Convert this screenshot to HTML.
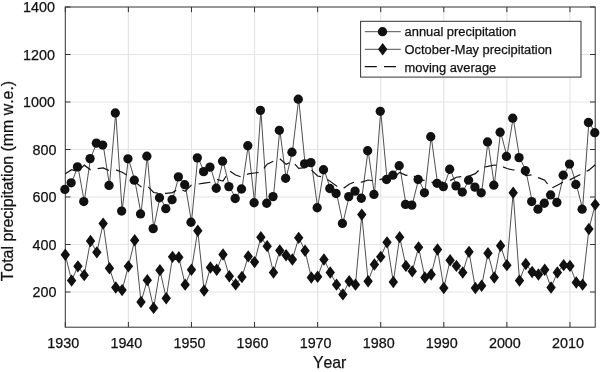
<!DOCTYPE html>
<html lang="en"><head><meta charset="utf-8"><title>Total precipitation</title>
<style>html,body{margin:0;padding:0;background:#fff}body{width:600px;height:372px;overflow:hidden}svg{display:block}text{stroke:#111;stroke-width:.25px}</style></head>
<body>
<svg width="600" height="372" viewBox="0 0 600 372" font-family="'Liberation Sans', Arial, Helvetica, sans-serif" fill="#111">
<rect width="600" height="372" fill="#fff"/>
<path d="M128.38 7V327.2M191.47 7V327.2M254.55 7V327.2M317.63 7V327.2M380.72 7V327.2M443.8 7V327.2M506.88 7V327.2M569.97 7V327.2M65.3 292H595.2M65.3 244.5H595.2M65.3 197H595.2M65.3 149.5H595.2M65.3 102H595.2M65.3 54.5H595.2" stroke="#e5e5e5" stroke-width="1.2" fill="none"/>
<path d="M65.3 327.2v-5.2M65.3 7v5.2M128.38 327.2v-5.2M128.38 7v5.2M191.47 327.2v-5.2M191.47 7v5.2M254.55 327.2v-5.2M254.55 7v5.2M317.63 327.2v-5.2M317.63 7v5.2M380.72 327.2v-5.2M380.72 7v5.2M443.8 327.2v-5.2M443.8 7v5.2M506.88 327.2v-5.2M506.88 7v5.2M569.97 327.2v-5.2M569.97 7v5.2M65.3 292h5.2M595.2 292h-5.2M65.3 244.5h5.2M595.2 244.5h-5.2M65.3 197h5.2M595.2 197h-5.2M65.3 149.5h5.2M595.2 149.5h-5.2M65.3 102h5.2M595.2 102h-5.2M65.3 54.5h5.2M595.2 54.5h-5.2M65.3 7h5.2M595.2 7h-5.2" stroke="#333" stroke-width="1" fill="none"/>
<rect x="65.3" y="7" width="529.9" height="320.2" fill="none" stroke="#333" stroke-width="1"/>
<g>
<polyline points="65.3,254.71 71.61,280.6 77.92,266.35 84.22,275.14 90.53,240.94 96.84,252.34 103.15,223.6 109.46,268.25 115.77,287.49 122.08,290.1 128.38,266.35 134.69,240.22 141,301.98 147.31,280.12 153.62,307.91 159.93,270.15 166.23,298.18 172.54,256.85 178.85,257.32 185.16,284.64 191.47,269.68 197.78,230.72 204.08,290.57 210.39,267.54 216.7,269.68 223.01,254.47 229.32,276.32 235.63,284.4 241.93,277.04 248.24,256.38 254.55,262.07 260.86,237.14 267.17,246.16 273.48,272.52 279.78,250.44 286.09,255.19 292.4,259.46 298.71,237.85 305.02,250.68 311.33,277.51 317.63,276.8 323.94,259.46 330.25,272.52 336.56,284.64 342.87,294.38 349.18,281.31 355.48,284.64 361.79,214.57 368.1,281.31 374.41,264.45 380.72,256.85 387.03,242.36 393.33,282.02 399.64,237.14 405.95,265.88 412.26,271.34 418.57,247.35 424.88,277.51 431.18,274.43 437.49,249.49 443.8,287.96 450.11,260.18 456.42,265.88 462.73,272.52 469.03,251.86 475.34,287.96 481.65,285.82 487.96,253.29 494.27,277.51 500.58,245.69 506.88,265.16 513.19,192.72 519.5,280.6 525.81,263.98 532.12,272.05 538.43,274.43 544.73,269.68 551.04,287.49 557.35,272.52 563.66,265.16 569.97,265.88 576.28,282.5 582.58,284.64 588.89,229.06 595.2,204.6" fill="none" stroke="#3c3c3c" stroke-width="0.9" stroke-linejoin="round"/>
<polyline points="65.3,189.16 71.61,182.51 77.92,166.6 84.22,201.28 90.53,158.29 96.84,142.85 103.15,144.75 109.46,185.12 115.77,112.69 122.08,210.78 128.38,158.53 134.69,179.9 141,213.62 147.31,155.91 153.62,228.35 159.93,197.47 166.23,208.4 172.54,199.38 178.85,176.57 185.16,184.41 191.47,221.94 197.78,157.57 204.08,171.35 210.39,166.84 216.7,187.97 223.01,160.9 229.32,186.31 235.63,198.19 241.93,188.69 248.24,145.46 254.55,202.46 260.86,110.08 267.17,202.94 273.48,196.29 279.78,130.03 286.09,178 292.4,151.88 298.71,98.91 305.02,163.51 311.33,162.32 317.63,207.45 323.94,169.45 330.25,188.21 336.56,193.2 342.87,223.12 349.18,196.29 355.48,190.82 361.79,197.95 368.1,150.45 374.41,194.15 380.72,111.03 387.03,179.19 393.33,174.91 399.64,165.41 405.95,204.12 412.26,204.84 418.57,179.19 424.88,192.49 431.18,136.44 437.49,182.99 443.8,186.31 450.11,168.97 456.42,185.6 462.73,191.78 469.03,179.9 475.34,186.79 481.65,192.49 487.96,141.66 494.27,184.89 500.58,131.93 506.88,156.15 513.19,117.91 519.5,157.34 525.81,170.4 532.12,201.28 538.43,208.88 544.73,202.94 551.04,194.62 557.35,202.22 563.66,174.91 569.97,163.75 576.28,184.18 582.58,208.88 588.89,122.19 595.2,132.4" fill="none" stroke="#3c3c3c" stroke-width="0.9" stroke-linejoin="round"/>
<polyline points="65.3,173.45 71.61,169.35 77.92,171.32 84.22,164.81 90.53,169.4 96.84,168.41 103.15,167.57 109.46,170.4 115.77,169.43 122.08,171.89 128.38,175.45 134.69,181.41 141,186.38 147.31,185.6 153.62,192.12 159.93,193.14 166.23,193.05 172.54,192.27 178.85,188.02 185.16,190.93 191.47,184.8 197.78,183.79 204.08,182.86 210.39,181.89 216.7,179.06 223.01,180.7 229.32,170.53 235.63,174.65 241.93,176.92 248.24,173.57 254.55,172.67 260.86,171.85 267.17,163.9 273.48,160.75 279.78,158.35 286.09,163.99 292.4,160.99 298.71,168.09 305.02,167.2 311.33,169.64 317.63,175.67 323.94,176.83 330.25,181.02 336.56,185.71 342.87,188.49 349.18,183.83 355.48,181.26 361.79,181.76 368.1,179.68 374.41,180.68 380.72,179.01 387.03,177.46 393.33,177.61 399.64,172.02 405.95,174.98 412.26,174.26 418.57,179.53 424.88,180.12 431.18,181.65 437.49,182.97 443.8,181.39 450.11,180.27 456.42,176.86 462.73,176.16 469.03,175.75 475.34,173.31 481.65,167.1 487.96,166.04 494.27,164.66 500.58,165.52 506.88,168.15 513.19,169.62 519.5,169.82 525.81,175.32 532.12,174.42 538.43,177.31 544.73,179.86 551.04,188.13 557.35,184.93 563.66,181.48 569.97,179.5 576.28,176.23 582.58,172.89 588.89,169.79 595.2,164.38" fill="none" stroke="#111" stroke-width="1.2" stroke-dasharray="12 7.1" transform="translate(0 0.35)"/>
<path d="M65.3 248.51l4.7 6.2l-4.7 6.2l-4.7 -6.2zM71.61 274.4l4.7 6.2l-4.7 6.2l-4.7 -6.2zM77.92 260.15l4.7 6.2l-4.7 6.2l-4.7 -6.2zM84.22 268.94l4.7 6.2l-4.7 6.2l-4.7 -6.2zM90.53 234.74l4.7 6.2l-4.7 6.2l-4.7 -6.2zM96.84 246.14l4.7 6.2l-4.7 6.2l-4.7 -6.2zM103.15 217.4l4.7 6.2l-4.7 6.2l-4.7 -6.2zM109.46 262.05l4.7 6.2l-4.7 6.2l-4.7 -6.2zM115.77 281.29l4.7 6.2l-4.7 6.2l-4.7 -6.2zM122.08 283.9l4.7 6.2l-4.7 6.2l-4.7 -6.2zM128.38 260.15l4.7 6.2l-4.7 6.2l-4.7 -6.2zM134.69 234.03l4.7 6.2l-4.7 6.2l-4.7 -6.2zM141 295.78l4.7 6.2l-4.7 6.2l-4.7 -6.2zM147.31 273.93l4.7 6.2l-4.7 6.2l-4.7 -6.2zM153.62 301.71l4.7 6.2l-4.7 6.2l-4.7 -6.2zM159.93 263.95l4.7 6.2l-4.7 6.2l-4.7 -6.2zM166.23 291.98l4.7 6.2l-4.7 6.2l-4.7 -6.2zM172.54 250.65l4.7 6.2l-4.7 6.2l-4.7 -6.2zM178.85 251.12l4.7 6.2l-4.7 6.2l-4.7 -6.2zM185.16 278.44l4.7 6.2l-4.7 6.2l-4.7 -6.2zM191.47 263.48l4.7 6.2l-4.7 6.2l-4.7 -6.2zM197.78 224.53l4.7 6.2l-4.7 6.2l-4.7 -6.2zM204.08 284.38l4.7 6.2l-4.7 6.2l-4.7 -6.2zM210.39 261.34l4.7 6.2l-4.7 6.2l-4.7 -6.2zM216.7 263.48l4.7 6.2l-4.7 6.2l-4.7 -6.2zM223.01 248.28l4.7 6.2l-4.7 6.2l-4.7 -6.2zM229.32 270.12l4.7 6.2l-4.7 6.2l-4.7 -6.2zM235.63 278.2l4.7 6.2l-4.7 6.2l-4.7 -6.2zM241.93 270.84l4.7 6.2l-4.7 6.2l-4.7 -6.2zM248.24 250.18l4.7 6.2l-4.7 6.2l-4.7 -6.2zM254.55 255.88l4.7 6.2l-4.7 6.2l-4.7 -6.2zM260.86 230.94l4.7 6.2l-4.7 6.2l-4.7 -6.2zM267.17 239.96l4.7 6.2l-4.7 6.2l-4.7 -6.2zM273.48 266.32l4.7 6.2l-4.7 6.2l-4.7 -6.2zM279.78 244.24l4.7 6.2l-4.7 6.2l-4.7 -6.2zM286.09 248.99l4.7 6.2l-4.7 6.2l-4.7 -6.2zM292.4 253.26l4.7 6.2l-4.7 6.2l-4.7 -6.2zM298.71 231.65l4.7 6.2l-4.7 6.2l-4.7 -6.2zM305.02 244.48l4.7 6.2l-4.7 6.2l-4.7 -6.2zM311.33 271.31l4.7 6.2l-4.7 6.2l-4.7 -6.2zM317.63 270.6l4.7 6.2l-4.7 6.2l-4.7 -6.2zM323.94 253.26l4.7 6.2l-4.7 6.2l-4.7 -6.2zM330.25 266.32l4.7 6.2l-4.7 6.2l-4.7 -6.2zM336.56 278.44l4.7 6.2l-4.7 6.2l-4.7 -6.2zM342.87 288.18l4.7 6.2l-4.7 6.2l-4.7 -6.2zM349.18 275.11l4.7 6.2l-4.7 6.2l-4.7 -6.2zM355.48 278.44l4.7 6.2l-4.7 6.2l-4.7 -6.2zM361.79 208.38l4.7 6.2l-4.7 6.2l-4.7 -6.2zM368.1 275.11l4.7 6.2l-4.7 6.2l-4.7 -6.2zM374.41 258.25l4.7 6.2l-4.7 6.2l-4.7 -6.2zM380.72 250.65l4.7 6.2l-4.7 6.2l-4.7 -6.2zM387.03 236.16l4.7 6.2l-4.7 6.2l-4.7 -6.2zM393.33 275.82l4.7 6.2l-4.7 6.2l-4.7 -6.2zM399.64 230.94l4.7 6.2l-4.7 6.2l-4.7 -6.2zM405.95 259.68l4.7 6.2l-4.7 6.2l-4.7 -6.2zM412.26 265.14l4.7 6.2l-4.7 6.2l-4.7 -6.2zM418.57 241.15l4.7 6.2l-4.7 6.2l-4.7 -6.2zM424.88 271.31l4.7 6.2l-4.7 6.2l-4.7 -6.2zM431.18 268.23l4.7 6.2l-4.7 6.2l-4.7 -6.2zM437.49 243.29l4.7 6.2l-4.7 6.2l-4.7 -6.2zM443.8 281.76l4.7 6.2l-4.7 6.2l-4.7 -6.2zM450.11 253.98l4.7 6.2l-4.7 6.2l-4.7 -6.2zM456.42 259.68l4.7 6.2l-4.7 6.2l-4.7 -6.2zM462.73 266.32l4.7 6.2l-4.7 6.2l-4.7 -6.2zM469.03 245.66l4.7 6.2l-4.7 6.2l-4.7 -6.2zM475.34 281.76l4.7 6.2l-4.7 6.2l-4.7 -6.2zM481.65 279.62l4.7 6.2l-4.7 6.2l-4.7 -6.2zM487.96 247.09l4.7 6.2l-4.7 6.2l-4.7 -6.2zM494.27 271.31l4.7 6.2l-4.7 6.2l-4.7 -6.2zM500.58 239.49l4.7 6.2l-4.7 6.2l-4.7 -6.2zM506.88 258.96l4.7 6.2l-4.7 6.2l-4.7 -6.2zM513.19 186.53l4.7 6.2l-4.7 6.2l-4.7 -6.2zM519.5 274.4l4.7 6.2l-4.7 6.2l-4.7 -6.2zM525.81 257.78l4.7 6.2l-4.7 6.2l-4.7 -6.2zM532.12 265.85l4.7 6.2l-4.7 6.2l-4.7 -6.2zM538.43 268.23l4.7 6.2l-4.7 6.2l-4.7 -6.2zM544.73 263.48l4.7 6.2l-4.7 6.2l-4.7 -6.2zM551.04 281.29l4.7 6.2l-4.7 6.2l-4.7 -6.2zM557.35 266.32l4.7 6.2l-4.7 6.2l-4.7 -6.2zM563.66 258.96l4.7 6.2l-4.7 6.2l-4.7 -6.2zM569.97 259.68l4.7 6.2l-4.7 6.2l-4.7 -6.2zM576.28 276.3l4.7 6.2l-4.7 6.2l-4.7 -6.2zM582.58 278.44l4.7 6.2l-4.7 6.2l-4.7 -6.2zM588.89 222.86l4.7 6.2l-4.7 6.2l-4.7 -6.2zM595.2 198.4l4.7 6.2l-4.7 6.2l-4.7 -6.2z" fill="#111"/>
<g fill="#111" transform="translate(-0.45 0.3)">
<circle cx="65.3" cy="189.16" r="4.65"/>
<circle cx="71.61" cy="182.51" r="4.65"/>
<circle cx="77.92" cy="166.6" r="4.65"/>
<circle cx="84.22" cy="201.28" r="4.65"/>
<circle cx="90.53" cy="158.29" r="4.65"/>
<circle cx="96.84" cy="142.85" r="4.65"/>
<circle cx="103.15" cy="144.75" r="4.65"/>
<circle cx="109.46" cy="185.12" r="4.65"/>
<circle cx="115.77" cy="112.69" r="4.65"/>
<circle cx="122.08" cy="210.78" r="4.65"/>
<circle cx="128.38" cy="158.53" r="4.65"/>
<circle cx="134.69" cy="179.9" r="4.65"/>
<circle cx="141" cy="213.62" r="4.65"/>
<circle cx="147.31" cy="155.91" r="4.65"/>
<circle cx="153.62" cy="228.35" r="4.65"/>
<circle cx="159.93" cy="197.47" r="4.65"/>
<circle cx="166.23" cy="208.4" r="4.65"/>
<circle cx="172.54" cy="199.38" r="4.65"/>
<circle cx="178.85" cy="176.57" r="4.65"/>
<circle cx="185.16" cy="184.41" r="4.65"/>
<circle cx="191.47" cy="221.94" r="4.65"/>
<circle cx="197.78" cy="157.57" r="4.65"/>
<circle cx="204.08" cy="171.35" r="4.65"/>
<circle cx="210.39" cy="166.84" r="4.65"/>
<circle cx="216.7" cy="187.97" r="4.65"/>
<circle cx="223.01" cy="160.9" r="4.65"/>
<circle cx="229.32" cy="186.31" r="4.65"/>
<circle cx="235.63" cy="198.19" r="4.65"/>
<circle cx="241.93" cy="188.69" r="4.65"/>
<circle cx="248.24" cy="145.46" r="4.65"/>
<circle cx="254.55" cy="202.46" r="4.65"/>
<circle cx="260.86" cy="110.08" r="4.65"/>
<circle cx="267.17" cy="202.94" r="4.65"/>
<circle cx="273.48" cy="196.29" r="4.65"/>
<circle cx="279.78" cy="130.03" r="4.65"/>
<circle cx="286.09" cy="178" r="4.65"/>
<circle cx="292.4" cy="151.88" r="4.65"/>
<circle cx="298.71" cy="98.91" r="4.65"/>
<circle cx="305.02" cy="163.51" r="4.65"/>
<circle cx="311.33" cy="162.32" r="4.65"/>
<circle cx="317.63" cy="207.45" r="4.65"/>
<circle cx="323.94" cy="169.45" r="4.65"/>
<circle cx="330.25" cy="188.21" r="4.65"/>
<circle cx="336.56" cy="193.2" r="4.65"/>
<circle cx="342.87" cy="223.12" r="4.65"/>
<circle cx="349.18" cy="196.29" r="4.65"/>
<circle cx="355.48" cy="190.82" r="4.65"/>
<circle cx="361.79" cy="197.95" r="4.65"/>
<circle cx="368.1" cy="150.45" r="4.65"/>
<circle cx="374.41" cy="194.15" r="4.65"/>
<circle cx="380.72" cy="111.03" r="4.65"/>
<circle cx="387.03" cy="179.19" r="4.65"/>
<circle cx="393.33" cy="174.91" r="4.65"/>
<circle cx="399.64" cy="165.41" r="4.65"/>
<circle cx="405.95" cy="204.12" r="4.65"/>
<circle cx="412.26" cy="204.84" r="4.65"/>
<circle cx="418.57" cy="179.19" r="4.65"/>
<circle cx="424.88" cy="192.49" r="4.65"/>
<circle cx="431.18" cy="136.44" r="4.65"/>
<circle cx="437.49" cy="182.99" r="4.65"/>
<circle cx="443.8" cy="186.31" r="4.65"/>
<circle cx="450.11" cy="168.97" r="4.65"/>
<circle cx="456.42" cy="185.6" r="4.65"/>
<circle cx="462.73" cy="191.78" r="4.65"/>
<circle cx="469.03" cy="179.9" r="4.65"/>
<circle cx="475.34" cy="186.79" r="4.65"/>
<circle cx="481.65" cy="192.49" r="4.65"/>
<circle cx="487.96" cy="141.66" r="4.65"/>
<circle cx="494.27" cy="184.89" r="4.65"/>
<circle cx="500.58" cy="131.93" r="4.65"/>
<circle cx="506.88" cy="156.15" r="4.65"/>
<circle cx="513.19" cy="117.91" r="4.65"/>
<circle cx="519.5" cy="157.34" r="4.65"/>
<circle cx="525.81" cy="170.4" r="4.65"/>
<circle cx="532.12" cy="201.28" r="4.65"/>
<circle cx="538.43" cy="208.88" r="4.65"/>
<circle cx="544.73" cy="202.94" r="4.65"/>
<circle cx="551.04" cy="194.62" r="4.65"/>
<circle cx="557.35" cy="202.22" r="4.65"/>
<circle cx="563.66" cy="174.91" r="4.65"/>
<circle cx="569.97" cy="163.75" r="4.65"/>
<circle cx="576.28" cy="184.18" r="4.65"/>
<circle cx="582.58" cy="208.88" r="4.65"/>
<circle cx="588.89" cy="122.19" r="4.65"/>
<circle cx="595.2" cy="132.4" r="4.65"/>
</g>
</g>
<g font-size="13.9" text-anchor="middle">
<text x="63.3" y="347.8" textLength="31.9" lengthAdjust="spacingAndGlyphs">1930</text>
<text x="126.38" y="347.8" textLength="31.9" lengthAdjust="spacingAndGlyphs">1940</text>
<text x="189.47" y="347.8" textLength="31.9" lengthAdjust="spacingAndGlyphs">1950</text>
<text x="252.55" y="347.8" textLength="31.9" lengthAdjust="spacingAndGlyphs">1960</text>
<text x="315.63" y="347.8" textLength="31.9" lengthAdjust="spacingAndGlyphs">1970</text>
<text x="378.72" y="347.8" textLength="31.9" lengthAdjust="spacingAndGlyphs">1980</text>
<text x="441.8" y="347.8" textLength="31.9" lengthAdjust="spacingAndGlyphs">1990</text>
<text x="504.88" y="347.8" textLength="31.9" lengthAdjust="spacingAndGlyphs">2000</text>
<text x="567.97" y="347.8" textLength="31.9" lengthAdjust="spacingAndGlyphs">2010</text>
</g>
<g font-size="13.9" text-anchor="end">
<text x="56.4" y="297" textLength="23.91" lengthAdjust="spacingAndGlyphs">200</text>
<text x="56.4" y="249.5" textLength="23.91" lengthAdjust="spacingAndGlyphs">400</text>
<text x="56.4" y="202" textLength="23.91" lengthAdjust="spacingAndGlyphs">600</text>
<text x="56.4" y="154.5" textLength="23.91" lengthAdjust="spacingAndGlyphs">800</text>
<text x="55" y="107" textLength="31.88" lengthAdjust="spacingAndGlyphs">1000</text>
<text x="55" y="59.5" textLength="31.88" lengthAdjust="spacingAndGlyphs">1200</text>
<text x="55" y="12" textLength="31.88" lengthAdjust="spacingAndGlyphs">1400</text>
</g>
<text x="329.6" y="368.1" font-size="16.1" text-anchor="middle" textLength="33.4" lengthAdjust="spacingAndGlyphs" style="font-kerning:none">Year</text>
<text transform="translate(13.4,181.1) rotate(-90)" font-size="16.1" text-anchor="middle" textLength="200.5" lengthAdjust="spacingAndGlyphs" style="font-kerning:none">Total precipitation (mm w.e.)</text>
<rect x="360.6" y="21.3" width="220.4" height="55.8" fill="#fff" stroke="#333" stroke-width="1"/>
<path d="M364.8 31.7H400.8M364.8 49.3H400.8" stroke="#3c3c3c" stroke-width="0.9" fill="none"/>
<path d="M364.8 66.7H400.8" stroke="#111" stroke-width="1.2" stroke-dasharray="12 7.2" fill="none"/>
<circle cx="382.5" cy="31.7" r="4.65" fill="#111"/>
<path d="M382.7 43.1l4.7 6.2l-4.7 6.2l-4.7 -6.2z" fill="#111"/>
<g font-size="12.88">
<text x="404.6" y="36.3">annual precipitation</text>
<text x="404.6" y="54.1">October-May precipitation</text>
<text x="404.6" y="71.7">moving average</text>
</g>
</svg>
</body></html>
